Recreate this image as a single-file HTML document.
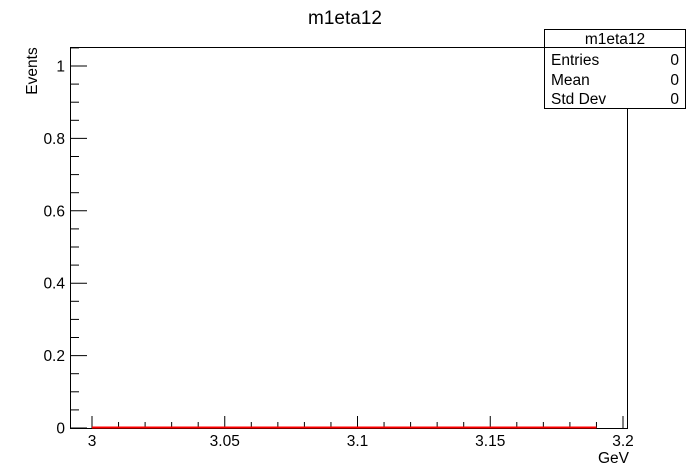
<!DOCTYPE html>
<html><head><meta charset="utf-8"><style>
body{margin:0;background:#fff;}
svg{display:block;font-family:"Liberation Sans",sans-serif;}
</style></head><body>
<svg id="c" width="698" height="476" viewBox="0 0 698 476">
<rect x="0" y="0" width="698" height="476" fill="#fff"/>
<text x="345" y="24" font-size="19" text-anchor="middle">m1eta12</text>
<rect x="70.5" y="47.5" width="557" height="381" fill="none" stroke="#000"/>
<g id="xaxis"></g>
<g id="yaxis"></g>
<g id="series"></g>
<text x="629" y="463" font-size="15.5" text-anchor="end">GeV</text>
<text transform="translate(37,71) rotate(-90)" font-size="15.5" text-anchor="middle">Events</text>
<g>
<rect x="544.5" y="29.5" width="141" height="79" fill="#fff" stroke="#000"/>
<line x1="544.5" y1="47.5" x2="685.5" y2="47.5" stroke="#000"/>
<text x="615" y="44" font-size="15.5" text-anchor="middle">m1eta12</text>
<text x="551" y="65" font-size="15.5">Entries</text>
<text x="679" y="65" font-size="15.5" text-anchor="end">0</text>
<text x="551" y="85" font-size="15.5">Mean</text>
<text x="679" y="85" font-size="15.5" text-anchor="end">0</text>
<text x="551" y="104" font-size="15.5">Std Dev</text>
<text x="679" y="104" font-size="15.5" text-anchor="end">0</text>
</g>
</svg>
<script>
const xTickLabels = ["3","3.05","3.1","3.15","3.2"];
const xTickValues = [3.0,3.05,3.1,3.15,3.2];
const yTickLabels = ["0","0.2","0.4","0.6","0.8","1"];
const yTickValues = [0,0.2,0.4,0.6,0.8,1];
const binEdges = [3.0,3.19];
const binValues = [0];
const NS="http://www.w3.org/2000/svg";
const X = v => 92 + (v-3.0)*2655;
const Y = v => 428 - v*362;
function mk(t,a,p){const e=document.createElementNS(NS,t);for(const k in a)e.setAttribute(k,a[k]);p.appendChild(e);return e;}
const xa=document.getElementById('xaxis'), ya=document.getElementById('yaxis'), sr=document.getElementById('series');
for(let i=0;i<=20;i++){const v=3.0+i*0.01;const x=X(v);const maj=i%5===0;
 const l=mk('line',{x1:x,x2:x,y1:428,y2:maj?416:422,stroke:'#000'},xa);
 
 }
xTickValues.forEach((v,i)=>{const t=mk('text',{x:X(v),y:446,'font-size':15.5,'text-anchor':'middle'},xa);t.textContent=xTickLabels[i];
 
 });
for(let i=0;i<=21;i++){const v=i*0.05;const y=Y(v);if(y<47)break;const maj=i%4===0;
 const l=mk('line',{x1:70,x2:maj?87:79,y1:y,y2:y,stroke:'#000'},ya);
 
 }
yTickValues.forEach((v,i)=>{const t=mk('text',{x:65,y:Y(v)+5.5,'font-size':15.5,'text-anchor':'end'},ya);t.textContent=yTickLabels[i];
 
 });
binValues.forEach((v,i)=>{const r=mk('line',{x1:X(binEdges[i]),x2:X(binEdges[i+1]),y1:Y(v)-0.5,y2:Y(v)-0.5,stroke:'#f00','stroke-width':2},sr);
 
 });
</script>
</body></html>
